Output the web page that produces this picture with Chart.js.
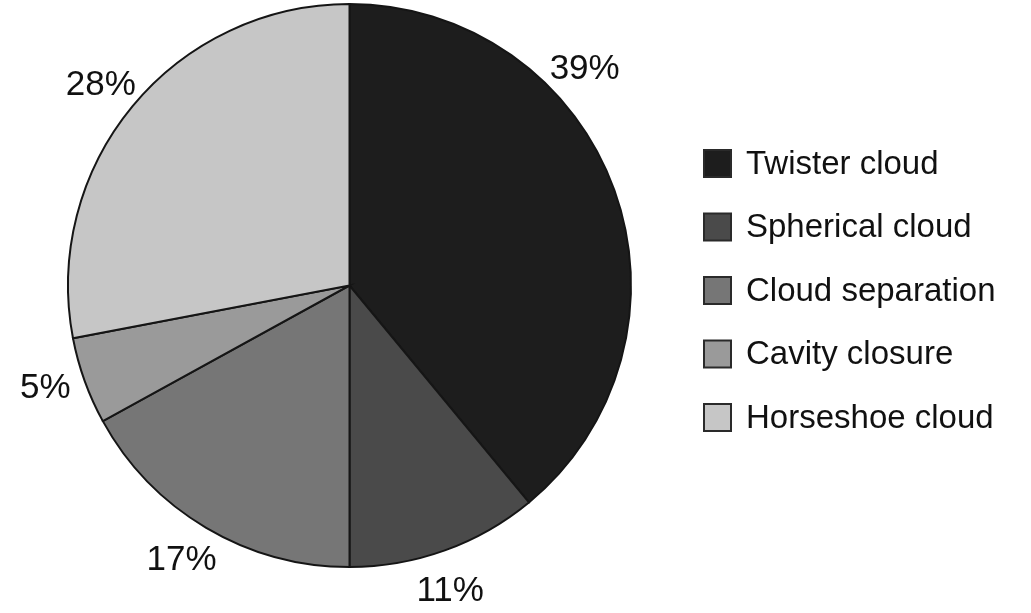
<!DOCTYPE html>
<html>
<head>
<meta charset="utf-8">
<title>Cloud types</title>
<script src="https://cdn.jsdelivr.net/npm/chart.js@4/dist/chart.umd.min.js"></script>
<style>
  html, body { margin: 0; padding: 0; background: #fff; }
  #wrap { width: 1031px; height: 613px; position: relative; }
</style>
</head>
<body>
<div id="wrap"><canvas id="pie"></canvas></div>
<script>
const categories = ['Twister cloud', 'Spherical cloud', 'Cloud separation', 'Cavity closure', 'Horseshoe cloud'];
const shares = [39, 11, 17, 5, 28];
const sliceColors = ['#1d1d1d', '#4a4a4a', '#767676', '#9a9a9a', '#c6c6c6'];

const FONT = '"Liberation Sans", Arial, sans-serif';

// percentage labels sitting just outside the rim
const outerLabels = {
    id: 'outerLabels',
    afterDatasetsDraw(chart, args, opts) {
        const ctx = chart.ctx;
        const arcs = chart.getDatasetMeta(0).data;
        ctx.save();
        ctx.font = opts.size + 'px ' + FONT;
        ctx.fillStyle = '#111';
        ctx.textAlign = 'center';
        ctx.textBaseline = 'middle';
        arcs.forEach((arc, i) => {
            const shift = (opts.shift[i] || 0) * Math.PI / 180;
            const mid = (arc.startAngle + arc.endAngle) / 2 + shift;
            const r = arc.outerRadius + opts.gap;
            const x = arc.x + Math.cos(mid) * r;
            const y = arc.y + Math.sin(mid) * r;
            ctx.fillText(shares[i] + '%', x, y + 2);
        });
        ctx.restore();
    }
};

// legend column on the right
const sideLegend = {
    id: 'sideLegend',
    afterDraw(chart, args, opts) {
        const ctx = chart.ctx;
        ctx.save();
        ctx.font = opts.size + 'px ' + FONT;
        ctx.textBaseline = 'middle';
        categories.forEach((name, i) => {
            const cy = opts.top + i * opts.step;
            ctx.fillStyle = sliceColors[i];
            ctx.fillRect(opts.left, cy - opts.box / 2, opts.box, opts.box);
            ctx.lineWidth = 2;
            ctx.strokeStyle = '#2a2a2a';
            ctx.strokeRect(opts.left, cy - opts.box / 2, opts.box, opts.box);
            ctx.fillStyle = '#111';
            ctx.fillText(name, opts.left + opts.box + 15, cy + 1);
        });
        ctx.restore();
    }
};

new Chart(document.getElementById('pie'), {
    type: 'pie',
    data: {
        labels: categories,
        datasets: [{
            data: shares,
            backgroundColor: sliceColors,
            borderColor: '#151515',
            borderWidth: 2,
            borderJoinStyle: 'miter'
        }]
    },
    options: {
        responsive: true,
        maintainAspectRatio: false,
        animation: false,
        layout: { padding: { left: 66, right: 398, top: 3, bottom: 45 } },
        plugins: {
            legend: { display: false },
            tooltip: { enabled: false },
            outerLabels: { size: 35, gap: 39, shift: [-23, 1.5, 1, 1.5, -0.5] },
            sideLegend: { left: 704, top: 163.5, step: 63.5, box: 27, size: 33 }
        }
    },
    plugins: [outerLabels, sideLegend]
});
</script>
</body>
</html>
